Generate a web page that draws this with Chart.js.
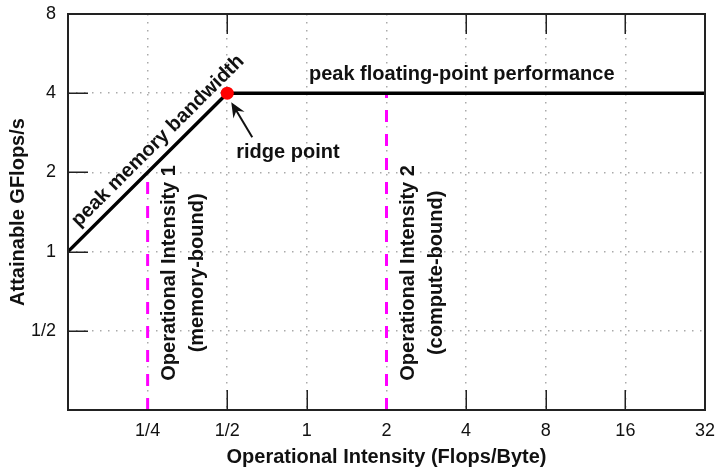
<!DOCTYPE html>
<html>
<head>
<meta charset="utf-8">
<script src="https://cdn.jsdelivr.net/npm/chart.js@4/dist/chart.umd.min.js"></script>
<style>
  html, body { margin: 0; padding: 0; background: #fff; }
  canvas { display: block; }
</style>
</head>
<body>
<canvas id="c" width="717" height="467"></canvas>
<script>
// ---- data ----
const xTickValues = [0.25, 0.5, 1, 2, 4, 8, 16, 32];
const xTickLabels = ['1/4', '1/2', '1', '2', '4', '8', '16', '32'];
const yTickValues = [0.5, 1, 2, 4, 8];
const yTickLabels = ['1/2', '1', '2', '4', '8'];

const roofX = [0.125, 0.5, 32];
const roofY = [1, 4, 4];
const ridgeX = [0.5];
const ridgeY = [4];
const oiX = [0.25, 2];          // operational intensity 1 and 2
const oiRoof = [2, 4];          // attainable at those intensities
const oiBottom = [0.25, 0.25];

const bottomTickValues = [0.5, 1, 4, 8, 16];
const topTickValues = [0.5, 4, 8, 16];
const leftTickValues = [0.5, 1, 2, 4];

const FONT = '"Liberation Sans", Arial, Helvetica, sans-serif';

function labelFor(values, labels, v) {
  for (let i = 0; i < values.length; i++) {
    if (Math.abs(values[i] - v) < 1e-9) return labels[i];
  }
  return '';
}

const decorPlugin = {
  id: 'decor',
  afterDatasetsDraw(chart) {
    const ctx = chart.ctx;
    const a = chart.chartArea;
    const xs = chart.scales.x, ys = chart.scales.y;
    ctx.save();

    // inward tick marks
    ctx.strokeStyle = '#222';
    ctx.lineWidth = 1.5;
    const TL = 20;
    ctx.beginPath();
    bottomTickValues.forEach(v => {
      const px = Math.round(xs.getPixelForValue(v)) + 0.25;
      ctx.moveTo(px, a.bottom); ctx.lineTo(px, a.bottom - TL);
    });
    topTickValues.forEach(v => {
      const px = Math.round(xs.getPixelForValue(v)) + 0.25;
      ctx.moveTo(px, a.top); ctx.lineTo(px, a.top + TL);
    });
    leftTickValues.forEach(v => {
      const py = Math.round(ys.getPixelForValue(v)) + 0.25;
      ctx.moveTo(a.left, py); ctx.lineTo(a.left + TL, py);
    });
    ctx.stroke();

    // frame
    ctx.strokeStyle = '#222';
    ctx.lineWidth = 2;
    ctx.strokeRect(a.left, a.top, a.right - a.left, a.bottom - a.top);

    ctx.fillStyle = '#111';
    ctx.font = 'bold 20px ' + FONT;

    // peak memory bandwidth label, along the slope
    const p1 = { x: xs.getPixelForValue(roofX[0]), y: ys.getPixelForValue(roofY[0]) };
    const p2 = { x: xs.getPixelForValue(roofX[1]), y: ys.getPixelForValue(roofY[1]) };
    const ang = Math.atan2(p2.y - p1.y, p2.x - p1.x);
    const ax = 0.3, ay = roofY[0] * ax / roofX[0];
    ctx.save();
    ctx.translate(xs.getPixelForValue(ax), ys.getPixelForValue(ay));
    ctx.rotate(ang);
    ctx.textAlign = 'center';
    ctx.textBaseline = 'middle';
    ctx.fillText('peak memory bandwidth', 0, -15);
    ctx.restore();

    // peak floating-point performance
    ctx.textAlign = 'center';
    ctx.textBaseline = 'alphabetic';
    ctx.fillText('peak floating-point performance', xs.getPixelForValue(3.85), ys.getPixelForValue(roofY[2]) - 13);

    // ridge point label + arrow
    const rx = xs.getPixelForValue(ridgeX[0]), ry = ys.getPixelForValue(ridgeY[0]);
    ctx.textAlign = 'left';
    ctx.fillText('ridge point', rx + 9, ry + 65);

    const tail = { x: rx + 25, y: ry + 44 };
    const tip = { x: rx + 4, y: ry + 9 };
    const dx = tip.x - tail.x, dy = tip.y - tail.y;
    const len = Math.hypot(dx, dy);
    const ux = dx / len, uy = dy / len;
    const nx = -uy, ny = ux;
    const HL = 15, HW = 6.5;
    ctx.strokeStyle = '#111';
    ctx.lineWidth = 2;
    ctx.beginPath();
    ctx.moveTo(tail.x, tail.y);
    ctx.lineTo(tip.x - ux * 8, tip.y - uy * 8);
    ctx.stroke();
    ctx.beginPath();
    ctx.moveTo(tip.x, tip.y);
    ctx.lineTo(tip.x - ux * HL + nx * HW, tip.y - uy * HL + ny * HW);
    ctx.lineTo(tip.x - ux * (HL - 5), tip.y - uy * (HL - 5));
    ctx.lineTo(tip.x - ux * HL - nx * HW, tip.y - uy * HL - ny * HW);
    ctx.closePath();
    ctx.fill();

    // operational intensity labels (rotated)
    const oiLabels = [
      ['Operational Intensity 1', '(memory-bound)'],
      ['Operational Intensity 2', '(compute-bound)']
    ];
    oiX.forEach((v, i) => {
      const px = xs.getPixelForValue(v);
      const py = ys.getPixelForValue(0.83);
      ctx.save();
      ctx.translate(px, py);
      ctx.rotate(-Math.PI / 2);
      ctx.textAlign = 'center';
      ctx.textBaseline = 'alphabetic';
      ctx.fillText(oiLabels[i][0], 0, 27.5);
      ctx.fillText(oiLabels[i][1], 0, 55);
      ctx.restore();
    });

    ctx.restore();
  }
};

const gridOpts = { color: '#aaa', lineWidth: 1.5, drawTicks: false, borderDash: [1.5, 6.5] };
const borderOpts = { display: false, dash: [1.5, 6.5] };

new Chart(document.getElementById('c'), {
  type: 'line',
  data: {
    datasets: [
      {
        label: 'ridge',
        data: ridgeX.map((x, i) => ({ x, y: ridgeY[i] })),
        showLine: false,
        pointRadius: 6.5,
        pointBackgroundColor: '#ff0000',
        pointBorderColor: '#ff0000',
        pointBorderWidth: 0,
        order: 0
      },
      {
        label: 'roofline',
        data: roofX.map((x, i) => ({ x, y: roofY[i] })),
        borderColor: '#000',
        borderWidth: 3.5,
        pointRadius: 0,
        fill: false,
        tension: 0,
        order: 1
      },
      {
        label: 'oi1',
        data: [{ x: oiX[0], y: oiBottom[0] }, { x: oiX[0], y: oiRoof[0] }],
        borderColor: '#ff00ff',
        borderWidth: 3,
        borderDash: [12, 12],
        pointRadius: 0,
        fill: false,
        order: 2
      },
      {
        label: 'oi2',
        data: [{ x: oiX[1], y: oiBottom[1] }, { x: oiX[1], y: oiRoof[1] }],
        borderColor: '#ff00ff',
        borderWidth: 3,
        borderDash: [12, 12],
        pointRadius: 0,
        fill: false,
        order: 2
      }
    ]
  },
  options: {
    responsive: false,
    devicePixelRatio: 1,
    animation: false,
    events: [],
    layout: { padding: { left: 0, right: 12, top: 14, bottom: 0 } },
    plugins: { legend: { display: false }, tooltip: { enabled: false } },
    scales: {
      x: {
        type: 'logarithmic',
        position: 'bottom',
        min: 0.125,
        max: 32,
        afterBuildTicks: s => { s.ticks = xTickValues.map(v => ({ value: v })); },
        afterFit: s => { s.height = 57; s.paddingLeft = 0; s.paddingRight = 0; },
        ticks: {
          callback: v => labelFor(xTickValues, xTickLabels, v),
          autoSkip: false, maxRotation: 0, minRotation: 0,
          padding: 10,
          color: '#111',
          font: { family: FONT, size: 18 }
        },
        grid: gridOpts,
        border: borderOpts,
        title: {
          display: true,
          text: 'Operational Intensity (Flops/Byte)',
          color: '#111',
          font: { family: FONT, size: 20, weight: 'bold', lineHeight: 1 },
          padding: { top: 0, bottom: 0 }
        }
      },
      y: {
        type: 'logarithmic',
        position: 'left',
        min: 0.25,
        max: 8,
        afterBuildTicks: s => { s.ticks = yTickValues.map(v => ({ value: v })); },
        afterFit: s => { s.width = 68; s.paddingTop = 0; s.paddingBottom = 0; },
        ticks: {
          callback: v => labelFor(yTickValues, yTickLabels, v),
          autoSkip: false,
          padding: 12,
          color: '#111',
          font: { family: FONT, size: 18 }
        },
        grid: gridOpts,
        border: borderOpts,
        title: {
          display: true,
          text: 'Attainable GFlops/s',
          color: '#111',
          font: { family: FONT, size: 20, weight: 'bold', lineHeight: 1 },
          padding: { top: 8.5, bottom: 0 }
        }
      }
    }
  },
  plugins: [decorPlugin]
});
</script>
</body>
</html>
